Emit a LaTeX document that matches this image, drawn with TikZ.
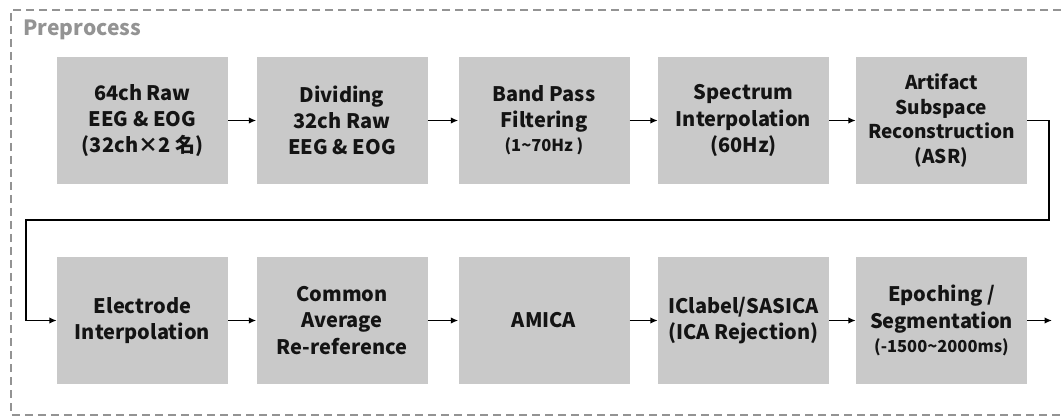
\documentclass[tikz,border=0pt]{standalone}
\usepackage{fontspec}
\setmainfont{Noto Sans CJK KR}
\usetikzlibrary{arrows.meta}
\newcommand{\tld}{{\char"7E}}
\begin{document}
\begin{tikzpicture}[x=1pt,y=-1pt,
  stepbox/.style={fill=boxgray, draw=none, minimum width=171pt, minimum height=127pt,
    inner sep=0pt, align=center, font=\fontsize{20}{26.2}\selectfont\bfseries, text=black!92},
  subline/.style={},
  arr/.style={line width=1.6pt, -{Latex[length=7.5pt,width=6.5pt]}}]
\definecolor{boxgray}{HTML}{C9C9C9}
\newcommand{\sub}{\fontsize{16.5}{20}\selectfont}
\useasboundingbox (0,0) rectangle (1061,417);
\fill[white] (0,0) rectangle (1061,417);
% dashed frame of the preprocessing stage
\draw[gray!85, line width=1.4pt, dash pattern=on 8pt off 5pt]
  (1061,10) -- (11,10) -- (11,415) -- (1061,415);
\node[anchor=west, text=gray!85, font=\fontsize{21}{24}\selectfont\bfseries] (title) at (20,30) {Preprocess};
% first row
\node[stepbox] (a1) at (142.5,120.5) {64ch Raw\\EEG \& EOG\\(32ch×2 名)};
\node[stepbox] (a2) at (342,120.5) {Dividing\\32ch Raw\\EEG \& EOG};
\node[stepbox] (a3) at (544,120.5) {Band Pass\\Filtering\\[-2pt]{\sub(1\tld70Hz )}};
\node[stepbox] (a4) at (743.5,120.5) {Spectrum\\Interpolation\\(60Hz)};
\node[stepbox, font=\fontsize{19}{24.5}\selectfont\bfseries] (a5) at (941.5,120.5) {Artifact\\Subspace\\Reconstruction\\(ASR)};
% second row
\node[stepbox] (b1) at (142.5,320.5) {Electrode\\Interpolation};
\node[stepbox] (b2) at (342,320.5) {Common\\Average\\Re-reference};
\node[stepbox] (b3) at (544,320.5) {AMICA};
\node[stepbox] (b4) at (743.5,320.5) {IClabel/SASICA\\(ICA Rejection)};
\node[stepbox] (b5) at (941.5,320.5) {Epoching /\\Segmentation\\[-2pt]{\sub(-1500\tld2000ms)}};
% connectors
\coordinate (cr) at (1049,220);
\coordinate (cl) at (26,220);
\coordinate (out) at (1052,320.5);
\draw[arr] (a1) -- (a2);
\draw[arr] (a2) -- (a3);
\draw[arr] (a3) -- (a4);
\draw[arr] (a4) -- (a5);
\draw[arr] (a5.east) -| (cr) -- (cl) |- (b1.west);
\draw[arr] (b1) -- (b2);
\draw[arr] (b2) -- (b3);
\draw[arr] (b3) -- (b4);
\draw[arr] (b4) -- (b5);
\draw[arr] (b5) -- (out);
\end{tikzpicture}
\end{document}
